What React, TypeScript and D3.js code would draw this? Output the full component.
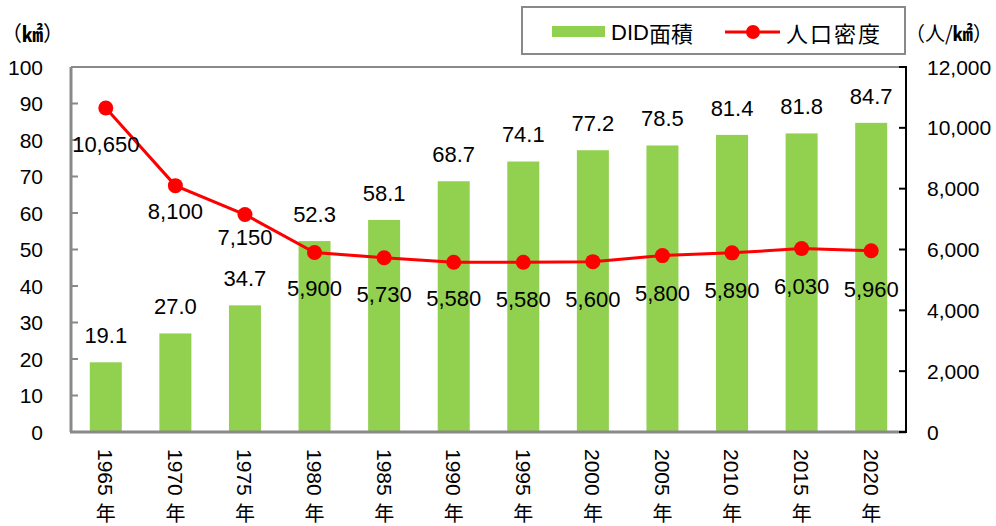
import React from "react";
import * as d3 from "d3";

const years = ["1965", "1970", "1975", "1980", "1985", "1990", "1995", "2000", "2005", "2010", "2015", "2020"];
const didArea = [19.1, 27.0, 34.7, 52.3, 58.1, 68.7, 74.1, 77.2, 78.5, 81.4, 81.8, 84.7];
const density = [10650, 8100, 7150, 5900, 5730, 5580, 5580, 5600, 5800, 5890, 6030, 5960];
const leftTicks = [0, 10, 20, 30, 40, 50, 60, 70, 80, 90, 100];
const rightTicks = [0, 2000, 4000, 6000, 8000, 10000, 12000];
// label offsets below points (layout only)
const densityLabelDy = [36, 25, 23, 36, 36, 36, 37, 37, 37, 37, 37, 38];

const W = 996, H = 526;
const L = 71, R = 906, T = 67, B = 432;
const NUM = "'Liberation Sans', Arial, sans-serif";
const CJK = "'Noto Sans CJK JP', sans-serif";
const GREEN = "#92D050";
const RED = "#FF0000";
const GRAY = "#898989";

export default function App() {
  const x = d3.scaleBand<string>().domain(years).range([L, R]).paddingInner(0.54).paddingOuter(0.27);
  const yL = d3.scaleLinear().domain([0, 100]).range([B, T]);
  const yR = d3.scaleLinear().domain([0, 12000]).range([B, T]);
  const cx = (i: number) => (x(years[i]) as number) + x.bandwidth() / 2;
  const line = d3.line<number>().x((_, i) => cx(i)).y((d) => yR(d));

  return (
    <svg width={W} height={H} style={{ position: "absolute", left: 0, top: 0, background: "#fff" }}>
      <rect x={0} y={0} width={W} height={H} fill="#fff" />
      {/* plot border */}
      <line x1={L} x2={R} y1={T} y2={T} stroke={GRAY} strokeWidth={2} />
      {/* bars */}
      {didArea.map((v, i) => (
        <rect key={i} x={x(years[i])} y={yL(v)} width={x.bandwidth()} height={B - yL(v)} fill={GREEN} />
      ))}
      {/* left axis */}
      <line x1={L} x2={L} y1={T} y2={B} stroke={GRAY} strokeWidth={3} />
      {leftTicks.map((t) => (
        <g key={t}>
          <line x1={L} x2={L + 7} y1={yL(t)} y2={yL(t)} stroke={GRAY} strokeWidth={2} />
          <text x={43} y={yL(t)} dy="0.36em" textAnchor="end" fontFamily={NUM} fontSize={21} fill="#000">{t}</text>
        </g>
      ))}
      {/* bottom axis */}
      <line x1={L - 1} x2={R} y1={B} y2={B} stroke={GRAY} strokeWidth={3} />
      {/* right axis */}
      <line x1={R} x2={R} y1={T - 1} y2={B + 1} stroke="#000" strokeWidth={2} />
      {rightTicks.map((t) => (
        <g key={t}>
          <line x1={R - 7} x2={R} y1={yR(t)} y2={yR(t)} stroke="#000" strokeWidth={2} />
          <text x={927} y={yR(t)} dy="0.36em" textAnchor="start" fontFamily={NUM} fontSize={21} fill="#000">{d3.format(",")(t)}</text>
        </g>
      ))}
      {/* bar labels */}
      {didArea.map((v, i) => (
        <text key={i} x={cx(i)} y={yL(v) - 27} dy="0.36em" textAnchor="middle" fontFamily={NUM} fontSize={22} fill="#000">{v.toFixed(1)}</text>
      ))}
      {/* density line */}
      <path d={line(density) || ""} fill="none" stroke={RED} strokeWidth={3} />
      {density.map((v, i) => (
        <circle key={i} cx={cx(i)} cy={yR(v)} r={7.5} fill={RED} />
      ))}
      {density.map((v, i) => (
        <text key={i} x={cx(i)} y={yR(v) + densityLabelDy[i]} dy="0.36em" textAnchor="middle" fontFamily={NUM} fontSize={22} fill="#000">{d3.format(",")(v)}</text>
      ))}
      {/* x labels */}
      {years.map((yv, i) => (
        <g key={yv}>
          <text transform={`translate(${cx(i)},449) rotate(90)`} dy="0.36em" textAnchor="start" fontFamily={NUM} fontSize={21} fill="#000">{yv}</text>
          <text x={cx(i)} y={512} dominantBaseline="central" textAnchor="middle" fontFamily={CJK} fontSize={20} fill="#000">年</text>
        </g>
      ))}
      {/* unit labels */}
      <text x={1} y={32} dominantBaseline="central" fontFamily={CJK} fontSize={21} fill="#000">（<tspan fontWeight="bold">㎢</tspan>）</text>
      <text x={905} y={32} dominantBaseline="central" fontFamily={CJK} fontSize={20} fill="#000">（人/<tspan fontWeight="bold">㎢</tspan>）</text>
      {/* legend */}
      <rect x={522} y={7} width={383} height={47} fill="#fff" stroke={GRAY} strokeWidth={2} />
      <rect x={552} y={26} width={53} height={11} fill={GREEN} />
      <text x={611} y={32} dominantBaseline="central" fontFamily={CJK} fontSize={22} fill="#000">
        <tspan fontFamily={NUM}>DID</tspan>面積
      </text>
      <line x1={725} x2={780} y1={32} y2={32} stroke={RED} strokeWidth={3} />
      <circle cx={753} cy={32} r={7} fill={RED} />
      <text x={786} y={32} dominantBaseline="central" fontFamily={CJK} fontSize={22} letterSpacing={2} fill="#000">人口密度</text>
    </svg>
  );
}
